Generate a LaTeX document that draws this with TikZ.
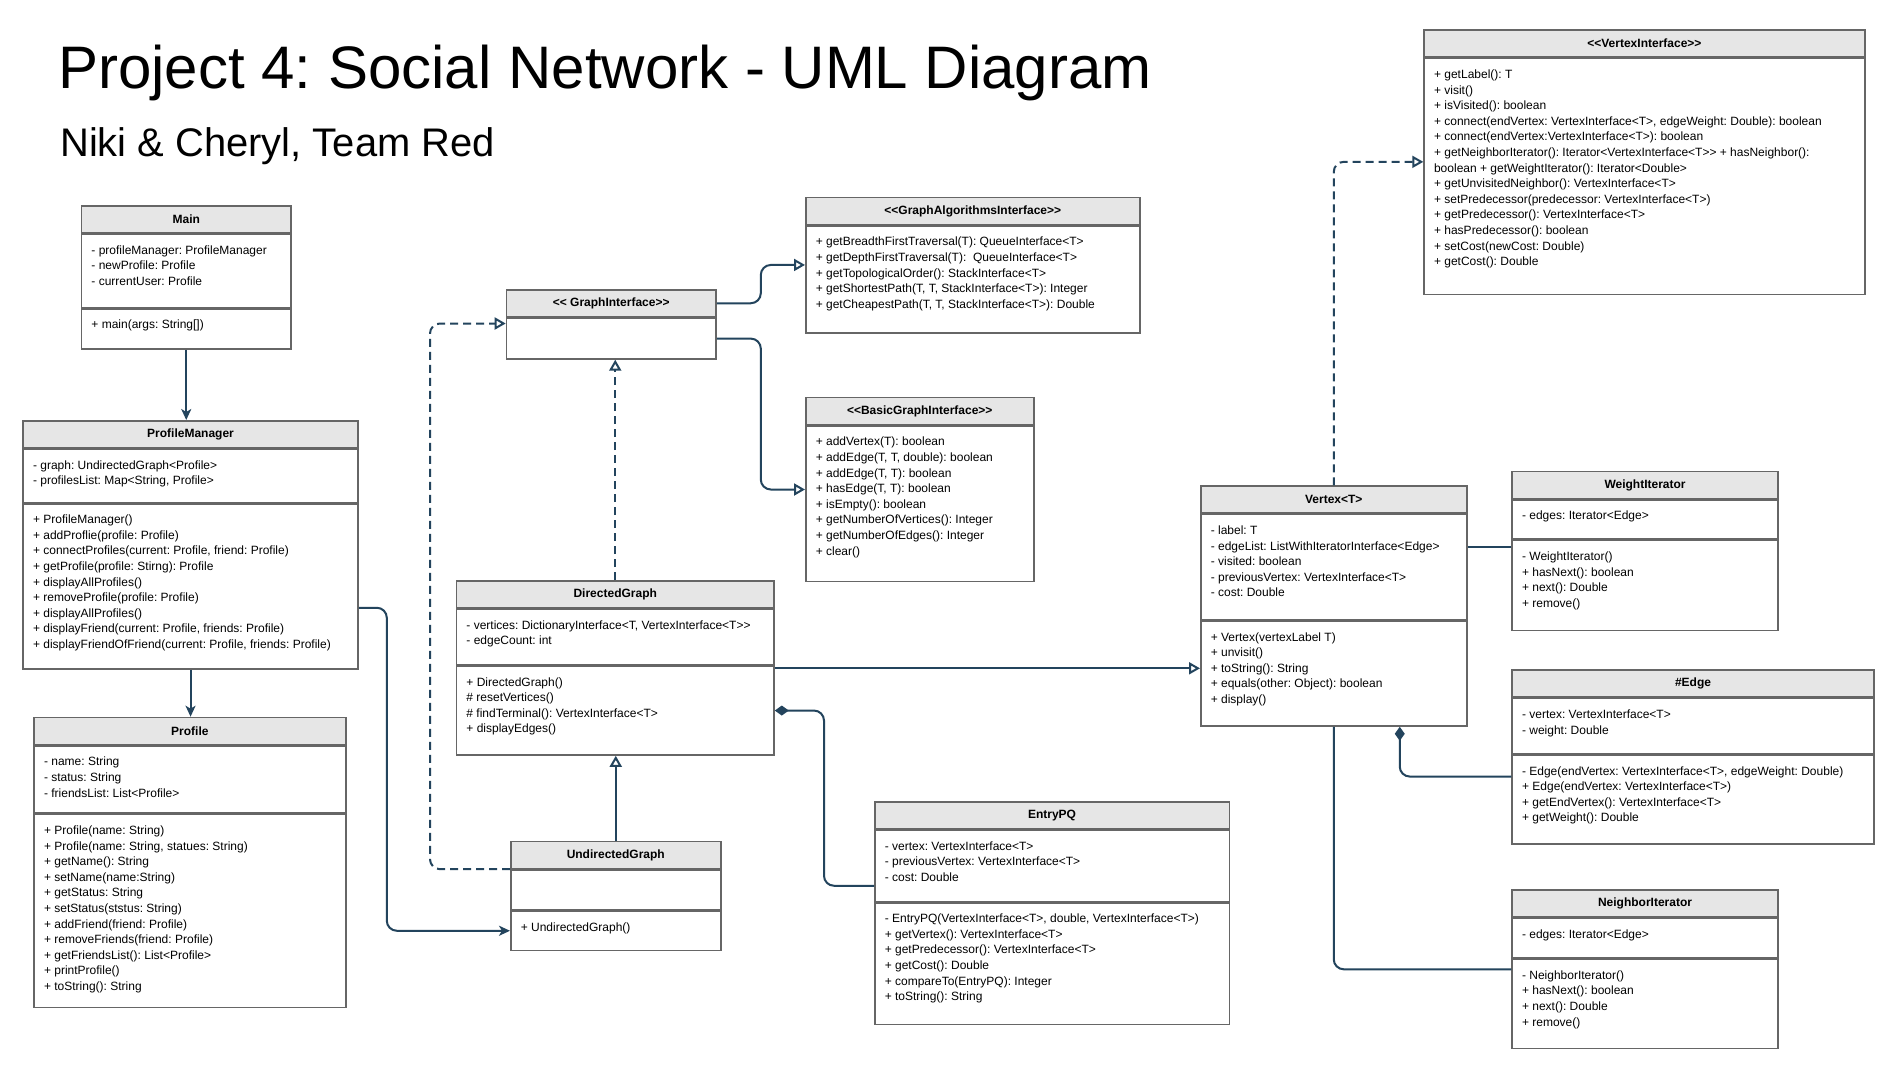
\documentclass[tikz,border=0pt]{standalone}
\usepackage{fontspec}
\setmainfont{Liberation Sans}[Ligatures=TeXOff]
\usetikzlibrary{arrows.meta,positioning}
\definecolor{boxgray}{HTML}{666666}
\definecolor{headgray}{HTML}{E6E6E6}
\definecolor{linkblue}{HTML}{23445D}
\newcommand{\umlpart}[3]{\parbox[c][#2pt][t]{#1pt}{\raggedright\leftskip=10pt\rule{0pt}{20pt}#3}}
\tikzset{
  head/.style={draw=boxgray, fill=headgray, line width=1.5pt, anchor=north west, inner sep=0pt, minimum height=27pt, font=\bfseries\fontsize{12}{14}\selectfont},
  part/.style={draw=boxgray, fill=white, line width=1.5pt, anchor=north west, inner sep=0pt, font=\fontsize{12}{15.6}\selectfont},
  link/.style={draw=linkblue, line width=2pt, rounded corners=10pt},
  assoc/.style={link, -{Stealth[length=11pt, width=10pt, inset=3pt]}},
  inherit/.style={link, -{Triangle[open, length=11pt, width=12pt]}},
  realize/.style={inherit, dash pattern=on 8pt off 5pt},
  compose/.style={link, -{Diamond[length=14pt, width=10pt]}}
}
\begin{document}
\frenchspacing
\begin{tikzpicture}[x=1pt, y=-1pt]
	\fill[white] (0,0) rectangle (1897,1074);
	\useasboundingbox (0,0) rectangle (1897,1074);

	\node[anchor=base west, inner sep=0pt, font=\fontsize{60}{72}\selectfont] (title) at (58,88) {Project 4: Social Network - UML Diagram};
	\node[anchor=base west, inner sep=0pt, font=\fontsize{39.9}{46}\selectfont] (subtitle) at (60,156) {Niki \& Cheryl, Team Red};

	% left column
	\node[head, minimum width=209.6pt] (main) at (80.7,205) {Main};
	\node[part] (main-a) at (main.south west) {\umlpart{209.6}{73}{- profileManager: ProfileManager\\- newProfile: Profile\\- currentUser: Profile}};
	\node[part] (main-m) at (main-a.south west) {\umlpart{209.6}{40}{+ main(args: String[])}};

	\node[head, minimum width=335pt] (pm) at (22.3,420) {ProfileManager};
	\node[part] (pm-a) at (pm.south west) {\umlpart{335}{53}{- graph: UndirectedGraph<Profile>\\- profilesList: Map<String, Profile>}};
	\node[part] (pm-m) at (pm-a.south west) {\umlpart{335}{165}{+ ProfileManager()\\+ addProflie(profile: Profile)\\+ connectProfiles(current: Profile, friend: Profile)\\+ getProfile(profile: Stirng): Profile\\+ displayAllProfiles()\\+ removeProfile(profile: Profile)\\+ displayAllProfiles()\\+ displayFriend(current: Profile, friends: Profile)\\+ displayFriendOfFriend(current: Profile, friends: Profile)}};

	\node[head, minimum width=311.7pt] (prof) at (33.3,716.7) {Profile};
	\node[part] (prof-a) at (prof.south west) {\umlpart{311.7}{67}{- name: String\\- status: String\\- friendsList: List<Profile>}};
	\node[part] (prof-m) at (prof-a.south west) {\umlpart{311.7}{193}{+ Profile(name: String)\\+ Profile(name: String, statues: String)\\+ getName(): String\\+ setName(name:String)\\+ getStatus: String\\+ setStatus(ststus: String)\\+ addFriend(friend: Profile)\\+ removeFriends(friend: Profile)\\+ getFriendsList(): List<Profile>\\+ printProfile()\\+ toString(): String}};

	% graph classes
	\node[head, minimum width=209.6pt] (gi) at (505.7,289) {<< GraphInterface>>};
	\node[part] (gi-b) at (gi.south west) {\umlpart{209.6}{40.7}{}};

	\node[head, minimum width=334pt] (ga) at (805,196.7) {<<GraphAlgorithmsInterface>>};
	\node[part] (ga-b) at (ga.south west) {\umlpart{334}{107}{+ getBreadthFirstTraversal(T): QueueInterface<T>\\+ getDepthFirstTraversal(T): \ QueueInterface<T>\\+ getTopologicalOrder(): StackInterface<T>\\+ getShortestPath(T, T, StackInterface<T>): Integer\\+ getCheapestPath(T, T, StackInterface<T>): Double}};

	\node[head, minimum width=228pt] (bg) at (805,396.7) {<<BasicGraphInterface>>};
	\node[part] (bg-b) at (bg.south west) {\umlpart{228}{155.7}{+ addVertex(T): boolean\\+ addEdge(T, T, double): boolean\\+ addEdge(T, T): boolean\\+ hasEdge(T, T): boolean\\+ isEmpty(): boolean\\+ getNumberOfVertices(): Integer\\+ getNumberOfEdges(): Integer\\+ clear()}};

	\node[head, minimum width=317.6pt] (dg) at (455.7,580) {DirectedGraph};
	\node[part] (dg-a) at (dg.south west) {\umlpart{317.6}{55.3}{- vertices: DictionaryInterface<T, VertexInterface<T>>\\- edgeCount: int}};
	\node[part] (dg-m) at (dg-a.south west) {\umlpart{317.6}{89}{+ DirectedGraph()\\\# resetVertices()\\\# findTerminal(): VertexInterface<T>\\+ displayEdges()}};

	\node[head, minimum width=210pt] (ug) at (510,840.7) {UndirectedGraph};
	\node[part] (ug-a) at (ug.south west) {\umlpart{210}{39.6}{}};
	\node[part] (ug-m) at (ug-a.south west) {\umlpart{210}{39.4}{+ UndirectedGraph()}};

	\node[head, minimum width=354.5pt] (epq) at (874,801) {EntryPQ};
	\node[part] (epq-a) at (epq.south west) {\umlpart{354.5}{71}{- vertex: VertexInterface<T>\\- previousVertex: VertexInterface<T>\\- cost: Double}};
	\node[part] (epq-m) at (epq-a.south west) {\umlpart{354.5}{121.7}{- EntryPQ(VertexInterface<T>, double, VertexInterface<T>)\\+ getVertex(): VertexInterface<T>\\+ getPredecessor(): VertexInterface<T>\\+ getCost(): Double\\+ compareTo(EntryPQ): Integer\\+ toString(): String}};

	% vertex classes
	\node[head, minimum width=440.7pt] (vi) at (1423.3,29.3) {<<VertexInterface>>};
	\node[part] (vi-b) at (vi.south west) {\umlpart{440.7}{236}{+ getLabel(): T\\+ visit()\\+ isVisited(): boolean\\+ connect(endVertex: VertexInterface<T>, edgeWeight: Double): boolean\\+ connect(endVertex:VertexInterface<T>): boolean\\+ getNeighborIterator(): Iterator<VertexInterface<T>> + hasNeighbor():\\boolean + getWeightIterator(): Iterator<Double>\\+ getUnvisitedNeighbor(): VertexInterface<T>\\+ setPredecessor(predecessor: VertexInterface<T>)\\+ getPredecessor(): VertexInterface<T>\\+ hasPredecessor(): boolean\\+ setCost(newCost: Double)\\+ getCost(): Double}};

	\node[head, minimum width=266pt] (vx) at (1200,485.3) {Vertex<T>};
	\node[part] (vx-a) at (vx.south west) {\umlpart{266}{105}{- label: T\\- edgeList: ListWithIteratorInterface<Edge>\\- visited: boolean\\- previousVertex: VertexInterface<T>\\- cost: Double}};
	\node[part] (vx-m) at (vx-a.south west) {\umlpart{266}{105}{+ Vertex(vertexLabel T)\\+ unvisit()\\+ toString(): String\\+ equals(other: Object): boolean\\+ display()}};

	\node[head, minimum width=266pt] (wi) at (1511.3,470.7) {WeightIterator};
	\node[part] (wi-a) at (wi.south west) {\umlpart{266}{39}{- edges: Iterator<Edge>}};
	\node[part] (wi-m) at (wi-a.south west) {\umlpart{266}{90}{- WeightIterator()\\+ hasNext(): boolean\\+ next(): Double\\+ remove()}};

	\node[head, minimum width=362pt] (ed) at (1511.3,669.3) {\#Edge};
	\node[part] (ed-a) at (ed.south west) {\umlpart{362}{55}{- vertex: VertexInterface<T>\\- weight: Double}};
	\node[part] (ed-m) at (ed-a.south west) {\umlpart{362}{89}{- Edge(endVertex: VertexInterface<T>, edgeWeight: Double)\\+ Edge(endVertex: VertexInterface<T>)\\+ getEndVertex(): VertexInterface<T>\\+ getWeight(): Double}};

	\node[head, minimum width=266pt] (ni) at (1511.3,889.3) {NeighborIterator};
	\node[part] (ni-a) at (ni.south west) {\umlpart{266}{39.3}{- edges: Iterator<Edge>}};
	\node[part] (ni-m) at (ni-a.south west) {\umlpart{266}{89.3}{- NeighborIterator()\\+ hasNext(): boolean\\+ next(): Double\\+ remove()}};

	% connectors
	\draw[assoc] (main-m.south) -- (main-m.south |- pm.north);
	\draw[assoc] (pm-m.south) -- (pm-m.south |- prof.north);
	\draw[assoc] ([yshift=-21.5pt]pm-m.east) -- ++(28,0) |- (ug-m.west);
	\draw[realize] (dg.north) -- (dg.north |- gi-b.south);
	\draw[inherit] (ug.north) -- (ug.north |- dg-m.south);
	\draw[realize] (ug-a.north west) -- ++(-80,0) |- ([yshift=-6pt]gi-b.north west);
	\draw[inherit] (gi.east) -- ++(44,0) |- ([yshift=14.5pt]ga-b.west);
	\draw[inherit] (gi-b.east) -- ++(44,0) |- ([yshift=14.3pt]bg-b.west);
	\coordinate (dgout) at ([yshift=-3pt]dg-m.north east);
	\draw[inherit] (dgout) -- (dgout -| vx-m.west);
	\draw[compose] ([yshift=-20pt]epq-a.west) -- ++(-50,0) |- (dg-m.east);
	\draw[realize] (vx.north) |- ([yshift=14.7pt]vi-b.west);
	\coordinate (vxout) at ([yshift=20pt]vx-a.east);
	\draw[link] (vxout) -- (vxout -| wi-m.west);
	\draw[compose] ([yshift=23pt]ed-m.west) -| ([xshift=66pt]vx-m.south);
	\draw[link] (vx-m.south) |- ([yshift=-10.7pt]ni-m.north west);
\end{tikzpicture}
\end{document}
